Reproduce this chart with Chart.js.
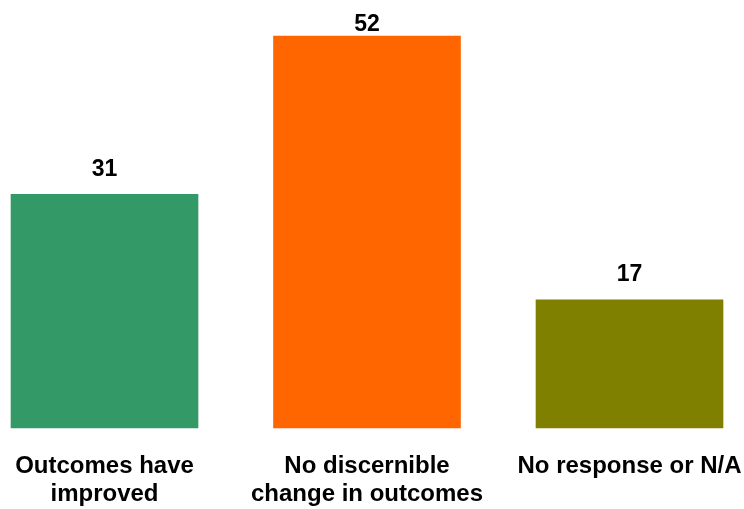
<!DOCTYPE html>
<html>
<head>
<meta charset="utf-8">
<script src="https://cdn.jsdelivr.net/npm/chart.js@4/dist/chart.umd.min.js"></script>
<style>
  html, body { margin: 0; padding: 0; background: #ffffff; }
  #wrap { width: 744px; height: 509px; position: relative; }
</style>
</head>
<body>
<div id="wrap"><canvas id="c" width="744" height="509"></canvas></div>
<script>
const categories = [
  ["Outcomes have", "improved"],
  ["No discernible", "change in outcomes"],
  ["No response or N/A"]
];
const values = [31, 52, 17];
const barColors = ["#339966", "#FF6600", "#808000"];

const FONT = "'Liberation Sans', Arial, sans-serif";

const valueLabels = {
  id: 'valueLabels',
  afterDatasetsDraw(chart) {
    const ctx = chart.ctx;
    const meta = chart.getDatasetMeta(0);
    ctx.save();
    ctx.font = "bold 23px " + FONT;
    ctx.fillStyle = "#000000";
    ctx.textAlign = "center";
    ctx.textBaseline = "middle";
    meta.data.forEach((bar, i) => {
      const y = Math.max(bar.y - 25, 25);
      ctx.fillText(String(values[i]), bar.x, y);
    });
    ctx.restore();
  }
};

new Chart(document.getElementById('c'), {
  type: 'bar',
  data: {
    labels: categories,
    datasets: [{
      data: values,
      backgroundColor: barColors,
      borderWidth: 0,
      barThickness: 187,
      clip: false
    }]
  },
  options: {
    responsive: false,
    animation: false,
    layout: { padding: { left: 104.5, right: 114.5, top: 6, bottom: 2 } },
    plugins: { legend: { display: false }, tooltip: { enabled: false } },
    scales: {
      x: {
        offset: false,
        grid: { display: false, drawTicks: false },
        border: { display: false },
        ticks: {
          color: "#000000",
          font: { family: FONT, size: 24, weight: 'bold', lineHeight: 1.167 },
          padding: 24,
          maxRotation: 0,
          minRotation: 0,
          autoSkip: false
        },
        afterFit(scale) {
          scale.height = 79;
          scale.paddingLeft = 0;
          scale.paddingRight = 0;
          scale.paddingTop = 0;
          scale.paddingBottom = 0;
        }
      },
      y: {
        display: false,
        min: 0,
        max: 56
      }
    }
  },
  plugins: [valueLabels]
});
</script>
</body>
</html>
